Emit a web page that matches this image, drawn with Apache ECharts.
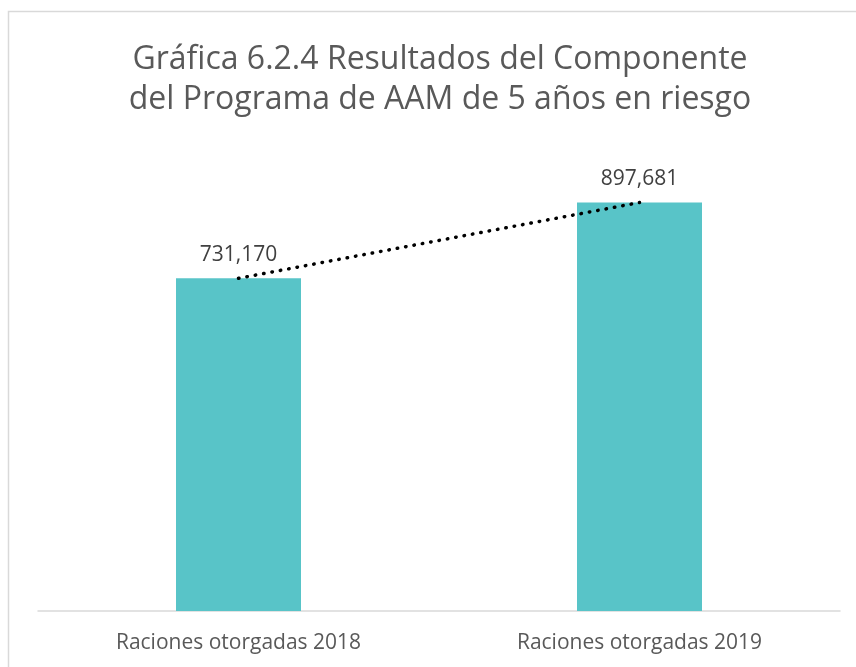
<!DOCTYPE html>
<html>
<head>
<meta charset="utf-8">
<script src="https://cdn.jsdelivr.net/npm/echarts@6/dist/echarts.min.js"></script>
<style>
html,body{margin:0;padding:0;background:#fff;}
#chart{width:856px;height:667px;}
</style>
</head>
<body>
<div id="chart"></div>
<script>
const titleText = 'Gráfica 6.2.4 Resultados del Componente\ndel Programa de AAM de 5 años en riesgo';
const categories = ['Raciones otorgadas 2018', 'Raciones otorgadas 2019'];
const rations = [731170, 897681];

const FONT = '"Open Sans", sans-serif';
const chart = echarts.init(document.getElementById('chart'), null, {renderer: 'canvas'});
chart.setOption({
  backgroundColor: '#ffffff',
  animation: false,
  graphic: [{
    type: 'rect',
    shape: {x: 8.5, y: 11.5, width: 900, height: 700},
    style: {fill: 'none', stroke: '#d9d9d9', lineWidth: 1.5},
    silent: true
  }],
  title: {
    text: titleText,
    left: 435,
    textAlign: 'center',
    top: 35,
    textStyle: {fontFamily: FONT, fontSize: 32, fontWeight: 'normal', color: '#595959', lineHeight: 40}
  },
  grid: {left: 38, right: 16, top: 156, bottom: 56},
  xAxis: {
    type: 'category',
    data: categories,
    axisLine: {lineStyle: {color: '#d9d9d9', width: 1.5}},
    axisTick: {show: false},
    axisLabel: {fontFamily: FONT, fontSize: 21, color: '#595959', margin: 22}
  },
  yAxis: {
    type: 'value', min: 0, max: 1000000, show: false,
    splitLine: {show: false}
  },
  series: [{
    type: 'bar',
    data: rations,
    barWidth: 125,
    itemStyle: {color: '#58c4c8'},
    label: {
      show: true, position: 'top', distance: 13,
      fontFamily: FONT, fontSize: 21, color: '#404040',
      formatter: p => p.value.toLocaleString('en-US')
    }
  }, {
    type: 'line',
    data: rations,
    symbol: 'none',
    z: 5,
    lineStyle: {color: '#000000', width: 3.5, type: [0.5, 8], cap: 'round'}
  }]
});
</script>
</body>
</html>
